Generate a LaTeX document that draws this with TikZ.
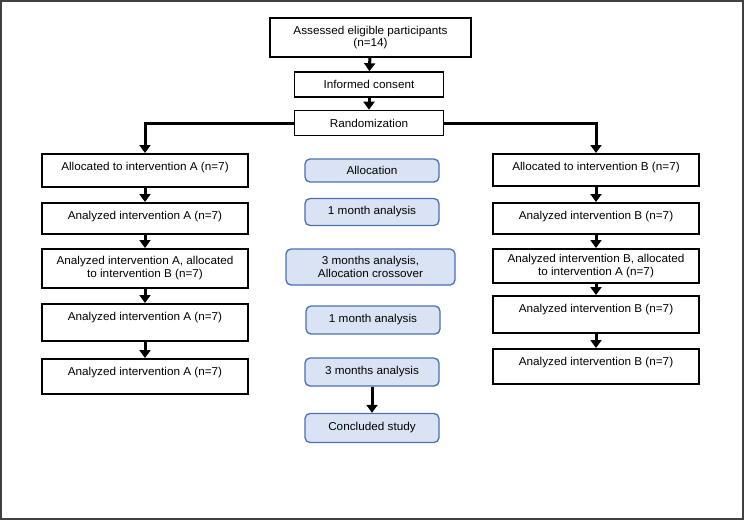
\documentclass[tikz,border=0pt]{standalone}
\usepackage{fontspec}
\setmainfont{Liberation Sans}[FakeStretch=1.03]
\usepackage{xcolor}
\usepackage{tikz}
\usetikzlibrary{arrows.meta,positioning}
\definecolor{midfill}{HTML}{DAE3F3}
\definecolor{midline}{HTML}{4A6FB5}
\definecolor{frameC}{HTML}{404040}

\begin{document}
\begin{tikzpicture}[x=1pt, y=-1pt, font=\fontsize{11.4}{12.8}\selectfont,
  box/.style={draw, line width=1.6pt, align=center, inner sep=2pt},
  sidebox/.style={box, anchor=north, minimum width=206pt, inner ysep=4pt},
  onebox/.style={sidebox, text height=12.5pt, text depth=#1},
  midbox/.style={draw=midline, fill=midfill, line width=1.3pt, rounded corners=5pt, align=center, minimum width=134pt, inner sep=2pt},
  arr/.style={line width=3pt, -{Triangle[width=11pt,length=8pt]}}]
\useasboundingbox (0,0) rectangle (744,520);
\draw[frameC, line width=2pt] (1,1) rectangle (743,519);
% top
\node[box, minimum width=201pt, minimum height=39pt] (assess) at (370.5,37.5) {Assessed eligible participants\\(n=14)};
\node[box, minimum width=149pt, minimum height=25pt] (consent) at (369,84.5) {Informed consent};
\node[box, minimum width=149pt, minimum height=25pt] (random) at (369,123) {Randomization};
\draw[arr] (assess) -- (consent);
\draw[arr] (consent) -- (random);
% intervention A
\node[onebox=12.5pt] (a1) at (145,153) {Allocated to intervention A (n=7)};
\node[onebox=10.5pt] (a2) at (145,202) {Analyzed intervention A (n=7)};
\node[sidebox, minimum height=39pt] (a3) at (145,248) {Analyzed intervention A, allocated\\to intervention B (n=7)};
\node[onebox=16.5pt] (a4) at (145,303) {Analyzed intervention A (n=7)};
\node[onebox=14.5pt] (a5) at (145,358) {Analyzed intervention A (n=7)};
% intervention B
\node[onebox=11.5pt] (b1) at (596,153) {Allocated to intervention B (n=7)};
\node[onebox=10.5pt] (b2) at (596,202) {Analyzed intervention B (n=7)};
\node[sidebox, minimum height=34pt] (b3) at (596,248) {Analyzed intervention B, allocated\\to intervention A (n=7)};
\node[onebox=16.5pt] (b4) at (596,295) {Analyzed intervention B (n=7)};
\node[onebox=14.5pt] (b5) at (596,348) {Analyzed intervention B (n=7)};
\draw[arr] (random.west) -| (a1.north);
\draw[arr] (random.east) -| (b1.north);
\foreach \i/\j in {1/2,2/3,3/4,4/5} {
  \draw[arr] (a\i) -- (a\j);
  \draw[arr] (b\i) -- (b\j);
}
% time line
\node[midbox, minimum height=23pt] (alloc) at (372,170.5) {Allocation};
\node[midbox, minimum height=27pt] (m1) at (372,212) {1 month analysis};
\node[midbox, minimum width=169pt, minimum height=36pt] (m3) at (370.5,267) {3 months analysis,\\Allocation crossover};
\node[midbox, minimum height=28pt] (m1b) at (373,320) {1 month analysis};
\node[midbox, minimum height=28pt] (m3b) at (372,372) {3 months analysis};
\node[midbox, minimum height=29pt] (done) at (372,428) {Concluded study};
\draw[arr] (m3b) -- (done);
\end{tikzpicture}
\end{document}
